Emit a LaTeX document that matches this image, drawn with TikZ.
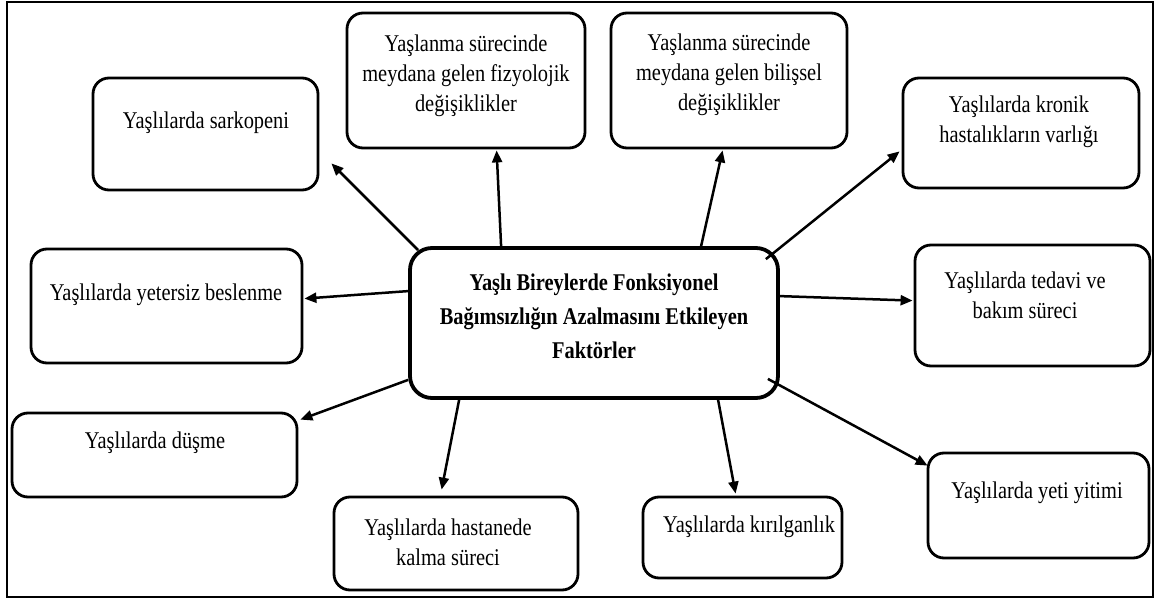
\documentclass[tikz,border=0pt]{standalone}
\usepackage{fontspec}
\setmainfont{Liberation Serif}[FakeStretch=0.85]
\usetikzlibrary{arrows.meta}

\tikzset{
  box/.style={draw, line width=2.8pt, rounded corners=16pt, inner sep=0pt},
  mainbox/.style={draw, line width=3.8pt, rounded corners=22pt, inner sep=0pt},
  txt/.style={align=center, inner sep=0pt, font=\fontsize{24}{30}\selectfont},
  maintxt/.style={align=center, inner sep=0pt, font=\fontsize{24}{34}\selectfont\bfseries},
  link/.style={line width=2.5pt, -{Triangle[length=12pt,width=10pt]}},
}

\begin{document}
\begin{tikzpicture}[x=1pt, y=-1pt]
  % page area and outer frame
  \useasboundingbox (0,0) rectangle (1156,599);
  \draw[line width=2pt] (7,2) rectangle (1153,597);

  % central box
  \node[mainbox, minimum width=368pt, minimum height=150pt] (c) at (594,323) {};
  \node[maintxt] (ct) at (594,316) {Yaşlı Bireylerde Fonksiyonel\\Bağımsızlığın Azalmasını Etkileyen\\Faktörler};

  % surrounding boxes
  \node[box, minimum width=225pt, minimum height=112pt] (s) at (205.5,134) {};
  \node[txt] (st) at (206,123) {Yaşlılarda sarkopeni};

  \node[box, minimum width=238pt, minimum height=135pt] (f) at (466,80.5) {};
  \node[txt] (ft) at (466,76) {Yaşlanma sürecinde\\meydana gelen fizyolojik\\değişiklikler};

  \node[box, minimum width=236pt, minimum height=135pt] (b) at (729,80.5) {};
  \node[txt] (bt) at (729,75) {Yaşlanma sürecinde\\meydana gelen bilişsel\\değişiklikler};

  \node[box, minimum width=236pt, minimum height=110pt] (k) at (1021,133) {};
  \node[txt] (kt) at (1019,122) {Yaşlılarda kronik\\hastalıkların varlığı};

  \node[box, minimum width=271pt, minimum height=114pt] (y) at (166.5,306) {};
  \node[txt] (yt) at (166,295) {Yaşlılarda yetersiz beslenme};

  \node[box, minimum width=235pt, minimum height=121pt] (t) at (1032.5,305.5) {};
  \node[txt] (tt) at (1025,295) {Yaşlılarda tedavi ve\\bakım süreci};

  \node[box, minimum width=285pt, minimum height=84pt] (d) at (154.5,455) {};
  \node[txt] (dt) at (155,443) {Yaşlılarda düşme};

  \node[box, minimum width=244pt, minimum height=93pt] (h) at (456,543.5) {};
  \node[txt] (ht) at (448,542) {Yaşlılarda hastanede\\kalma süreci};

  \node[box, minimum width=199pt, minimum height=81pt] (r) at (742.5,537.5) {};
  \node[txt] (rt) at (749,527) {Yaşlılarda kırılganlık};

  \node[box, minimum width=221pt, minimum height=105pt] (v) at (1038.5,505.5) {};
  \node[txt] (vt) at (1037,493) {Yaşlılarda yeti yitimi};

  % arrows from the central box
  \draw[link] ([shift={(10,4)}]c.north west) -- ([shift={(12,-28)}]s.south east);
  \draw[link] ([shift={(93,0)}]c.north west) -- ([shift={(151,1)}]f.south west);
  \draw[link] ([shift={(293,0)}]c.north west) -- ([shift={(113,1)}]b.south west);
  \draw[link] ([shift={(-14,13)}]c.north east) -- ([shift={(-2,-38)}]k.south west);
  \draw[link] ([shift={(0,45)}]c.north west) -- ([shift={(1,51)}]y.north east);
  \draw[link] ([shift={(0,50)}]c.north east) -- ([shift={(-1,57)}]t.north west);
  \draw[link] ([shift={(0,-20)}]c.south west) -- ([shift={(2,8)}]d.north east);
  \draw[link] ([shift={(51,0)}]c.south west) -- ([shift={(109,-6)}]h.north west);
  \draw[link] ([shift={(310,0)}]c.south west) -- ([shift={(94,-2)}]r.north west);
  \draw[link] ([shift={(-12,-21)}]c.south east) -- ([shift={(1,14)}]v.north west);
\end{tikzpicture}
\end{document}
